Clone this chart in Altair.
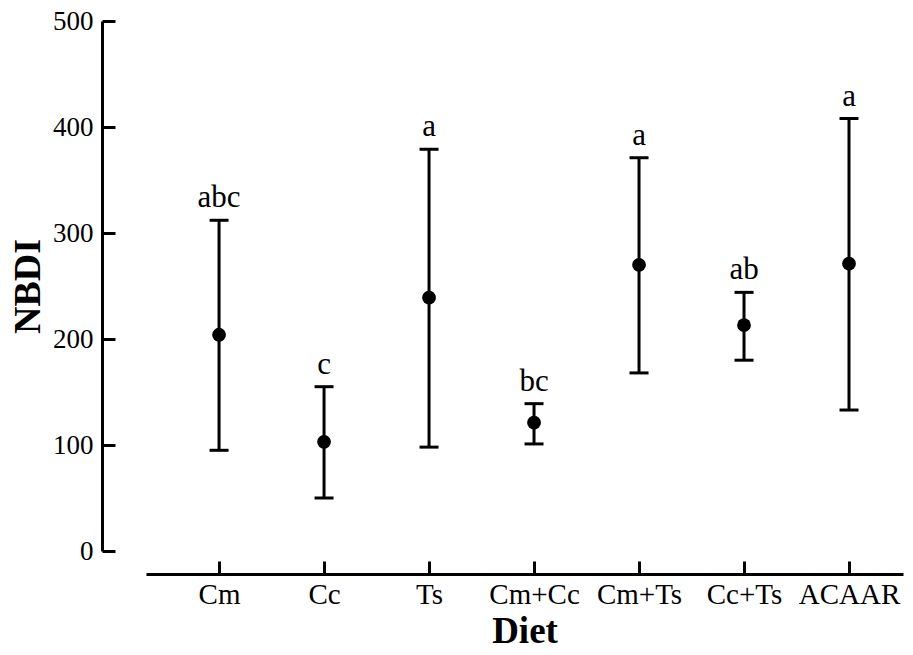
import altair as alt
import pandas as pd

diets = ["Cm", "Cc", "Ts", "Cm+Cc", "Cm+Ts", "Cc+Ts", "ACAAR"]
means = [204, 103, 239, 121, 270, 213, 271]
lower = [95, 50, 98, 101, 168, 180, 133]
upper = [312, 155, 379, 139, 371, 244, 408]
letters = ["abc", "c", "a", "bc", "a", "ab", "a"]
y_ticks = [0, 100, 200, 300, 400, 500]

df = pd.DataFrame({"Diet": diets, "mean": means, "lower": lower,
                   "upper": upper, "letter": letters})

W, H = 757, 530
FONT = "Liberation Serif"
X_OFF = 23

xscale = alt.Scale(type="point", domain=diets, padding=0.605, align=0.575)
yscale = alt.Scale(domain=[0, 500], nice=False, zero=True)

base = alt.Chart(df)

bars = base.mark_rule(strokeWidth=3, color="black").encode(
    x=alt.X("Diet:N", scale=xscale,
            axis=alt.Axis(orient="bottom", offset=X_OFF, ticks=False, domain=True,
                          domainWidth=3, domainColor="black", labelAngle=0,
                          labelFont=FONT, labelFontSize=29, labelColor="black",
                          labelPadding=6, title="Diet", titleFont=FONT,
                          titleFontSize=37, titleFontWeight="bold",
                          titleColor="black", titleBaseline="alphabetic",
                          titlePadding=33, grid=False)),
    y=alt.Y("lower:Q", scale=yscale,
            axis=alt.Axis(orient="left", offset=44, values=y_ticks, ticks=False,
                          domain=True, domainWidth=3, domainColor="black",
                          labelFont=FONT, labelFontSize=27, labelColor="black",
                          labelPadding=9, title="NBDI", titleFont=FONT,
                          titleFontSize=38, titleFontWeight="bold",
                          titleColor="black", titlePadding=5, grid=False)),
    y2="upper:Q",
)

points = base.mark_circle(size=190, color="black", opacity=1).encode(
    x=alt.X("Diet:N", scale=xscale,
            axis=alt.Axis(orient="top", offset=-(H + X_OFF), labels=False,
                          domain=False, ticks=True, tickSize=13, tickWidth=3,
                          tickColor="black", title=None, grid=False)),
    y=alt.Y("mean:Q", scale=yscale,
            axis=alt.Axis(orient="right", offset=-(W + 44), values=y_ticks,
                          labels=False, domain=False, ticks=True, tickSize=13,
                          tickWidth=3, tickColor="black", title=None, grid=False)),
)

cap_hi = base.mark_tick(orient="horizontal", size=19, thickness=3,
                        color="black", opacity=1).encode(
    x=alt.X("Diet:N", scale=xscale, axis=None),
    y=alt.Y("upper:Q", scale=yscale, axis=None),
)

cap_lo = base.mark_tick(orient="horizontal", size=19, thickness=3,
                        color="black", opacity=1).encode(
    x=alt.X("Diet:N", scale=xscale, axis=None),
    y=alt.Y("lower:Q", scale=yscale, axis=None),
)

labels = base.mark_text(baseline="bottom", dy=-6, font=FONT, fontSize=31,
                        color="black").encode(
    x=alt.X("Diet:N", scale=xscale, axis=None),
    y=alt.Y("upper:Q", scale=yscale, axis=None),
    text="letter:N",
)

chart = (
    alt.layer(bars, points, cap_hi, cap_lo, labels)
    .resolve_axis(x="independent", y="independent")
    .properties(width=W, height=H,
                autosize=alt.AutoSizeParams(type="none"),
                padding={"left": 138, "top": 13, "right": 2, "bottom": 95},
                background="white")
    .configure_view(stroke=None)
)

chart.save("out.html", embed_options={"renderer": "svg", "actions": False})
